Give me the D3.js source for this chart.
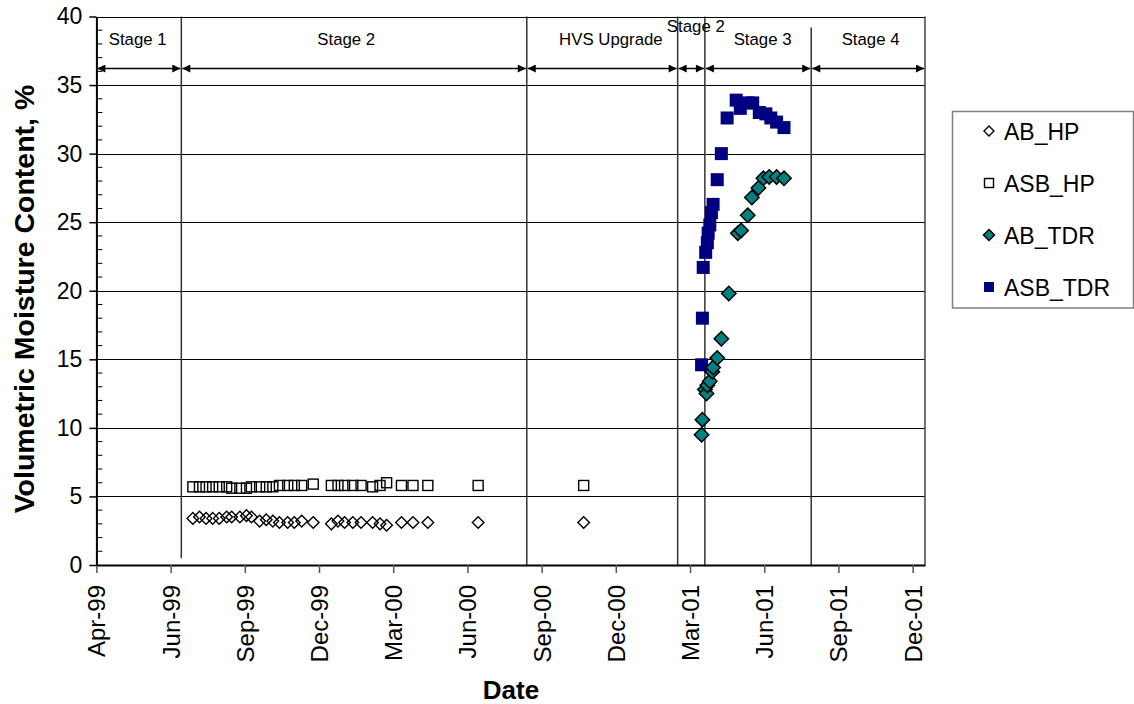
<!DOCTYPE html>
<html>
<head>
<meta charset="utf-8">
<script src="https://cdn.jsdelivr.net/npm/d3@7"></script>
<style>
  html, body { margin: 0; padding: 0; background: #fff; }
  svg { display: block; font-family: Arial, "Liberation Sans", sans-serif; }
</style>
</head>
<body>
<svg id="chart" width="1134" height="704"></svg>
<script>
// ---- data ----------------------------------------------------------------
// Heat-probe readings (same sampling dates for both layers)
const hpDates = [
  "1999-07-27","1999-08-04","1999-08-12","1999-08-20","1999-08-28","1999-09-06",
  "1999-09-12","1999-09-22","1999-09-30","1999-10-06","1999-10-16","1999-10-24",
  "1999-11-01","1999-11-09","1999-11-19","1999-11-27","1999-12-06","1999-12-20",
  "2000-01-11","2000-01-19","2000-01-27","2000-02-06","2000-02-16","2000-03-01",
  "2000-03-10","2000-03-18","2000-04-05","2000-04-19","2000-05-07","2000-07-07",
  "2000-11-12"
];
const abHP = [
  3.4, 3.5, 3.4, 3.4, 3.4, 3.5, 3.5, 3.5, 3.6, 3.5, 3.2, 3.3,
  3.2, 3.1, 3.1, 3.1, 3.2, 3.1, 3.0, 3.2, 3.1, 3.1, 3.1, 3.1,
  3.0, 2.9, 3.1, 3.1, 3.1, 3.1, 3.1
];
const asbHP = [
  5.7, 5.7, 5.7, 5.7, 5.7, 5.7, 5.6, 5.6, 5.6, 5.7, 5.7, 5.7,
  5.7, 5.8, 5.8, 5.8, 5.8, 5.9, 5.8, 5.8, 5.8, 5.8, 5.8, 5.7,
  5.8, 6.0, 5.8, 5.8, 5.8, 5.8, 5.8
];

// TDR readings
const abTDRDates = [
  "2001-04-04","2001-04-05","2001-04-08","2001-04-10","2001-04-11","2001-04-14",
  "2001-04-17","2001-04-18","2001-04-23","2001-04-28","2001-05-07","2001-05-18",
  "2001-05-22","2001-05-30","2001-06-04","2001-06-12","2001-06-18","2001-06-25",
  "2001-07-04","2001-07-13"
];
const abTDR = [
  9.5, 10.6, 12.8, 12.5, 13.1, 13.4, 14.1, 14.4, 15.1, 16.5, 19.8, 24.2,
  24.4, 25.5, 26.8, 27.5, 28.2, 28.3, 28.3, 28.2
];
const asbTDRDates = [
  "2001-04-04","2001-04-05","2001-04-06","2001-04-09","2001-04-11","2001-04-12",
  "2001-04-14","2001-04-16","2001-04-18","2001-04-23","2001-04-28","2001-05-05",
  "2001-05-16","2001-05-21","2001-05-30","2001-06-05","2001-06-13","2001-06-21",
  "2001-06-27","2001-07-04","2001-07-13"
];
const asbTDR = [
  14.6, 18.0, 21.7, 22.8, 23.5, 24.2, 24.8, 25.7, 26.3, 28.1, 30.0, 32.6,
  33.9, 33.3, 33.7, 33.7, 33.0, 32.9, 32.6, 32.3, 31.9
];

// Construction stages
const stageLabels = ["Stage 1", "Stage 2", "HVS Upgrade", "Stage 2", "Stage 3", "Stage 4"];
const stageStarts = ["1999-04-01","1999-07-13","2000-09-04","2001-03-06","2001-04-08","2001-08-15"];
const stageEnds   = ["1999-07-13","2000-09-04","2001-03-06","2001-04-08","2001-08-15","2001-12-31"];
const stageLabelDates = ["1999-05-21","2000-01-29","2000-12-15","2001-03-28","2001-06-17","2001-10-26"];

// Axes
const xTickDates = [
  "1999-04-01","1999-06-30","1999-09-28","1999-12-27","2000-03-26","2000-06-24",
  "2000-09-22","2000-12-21","2001-03-21","2001-06-19","2001-09-17","2001-12-16"
];
const xTickLabels = [
  "Apr-99","Jun-99","Sep-99","Dec-99","Mar-00","Jun-00",
  "Sep-00","Dec-00","Mar-01","Jun-01","Sep-01","Dec-01"
];
const yTicks = [0, 5, 10, 15, 20, 25, 30, 35, 40];
const seriesNames = ["AB_HP", "ASB_HP", "AB_TDR", "ASB_TDR"];

// ---- layout --------------------------------------------------------------
const parse = d3.utcParse("%Y-%m-%d");
const svg = d3.select("#chart");
const plot = { left: 96.4, right: 925, top: 16.5, bottom: 565 };

const x = d3.scaleUtc()
  .domain([parse("1999-04-01"), parse("2001-12-31")])
  .range([plot.left, plot.right]);
const y = d3.scaleLinear().domain([0, 40]).range([plot.bottom, plot.top]);

// horizontal gridlines
svg.append("g").selectAll("line")
  .data(yTicks.filter(v => v > 0))
  .join("line")
  .attr("x1", plot.left).attr("x2", plot.right)
  .attr("y1", d => Math.round(y(d)) + 0.5).attr("y2", d => Math.round(y(d)) + 0.5)
  .attr("stroke", "#000").attr("stroke-width", 1);

// right border of the plot area
svg.append("line")
  .attr("x1", plot.right).attr("x2", plot.right)
  .attr("y1", y(40)).attr("y2", y(0))
  .attr("stroke", "#444").attr("stroke-width", 1.5);

// stage divider lines
const dividerDates = stageStarts.slice(1);
const dividerTop = [40, 40, 40, 40, 39.2];
const dividerBottom = [0.5, -0.1, -0.1, -0.1, -0.1];
svg.append("g").selectAll("line")
  .data(dividerDates)
  .join("line")
  .attr("x1", d => x(parse(d))).attr("x2", d => x(parse(d)))
  .attr("y1", (d, i) => y(dividerTop[i])).attr("y2", (d, i) => y(dividerBottom[i]))
  .attr("stroke", "#333").attr("stroke-width", 1.5);

// arrowheads
const defs = svg.append("defs");
defs.append("marker")
  .attr("id", "arrowEnd").attr("viewBox", "0 0 10 10")
  .attr("refX", 10).attr("refY", 5)
  .attr("markerWidth", 9).attr("markerHeight", 8)
  .attr("markerUnits", "userSpaceOnUse")
  .attr("orient", "auto")
  .append("path").attr("d", "M0,0 L10,5 L0,10 Z").attr("fill", "#000");
defs.append("marker")
  .attr("id", "arrowStart").attr("viewBox", "0 0 10 10")
  .attr("refX", 0).attr("refY", 5)
  .attr("markerWidth", 9).attr("markerHeight", 8)
  .attr("markerUnits", "userSpaceOnUse")
  .attr("orient", "auto")
  .append("path").attr("d", "M10,0 L0,5 L10,10 Z").attr("fill", "#000");

const arrowY = Math.round(y(36.25)) + 0.5;
svg.append("g").selectAll("line")
  .data(stageLabels.map((s, i) => ({ a: parse(stageStarts[i]), b: parse(stageEnds[i]) })))
  .join("line")
  .attr("x1", d => x(d.a) + 1).attr("x2", d => x(d.b) - 1)
  .attr("y1", arrowY).attr("y2", arrowY)
  .attr("stroke", "#000").attr("stroke-width", 1.5)
  .attr("marker-start", "url(#arrowStart)")
  .attr("marker-end", "url(#arrowEnd)");

// stage labels
svg.append("g").selectAll("text")
  .data(stageLabels)
  .join("text")
  .attr("x", (d, i) => x(parse(stageLabelDates[i])))
  .attr("y", (d, i) => i === 3 ? 32 : 45)
  .attr("text-anchor", "middle")
  .attr("font-size", 16.8)
  .attr("fill", "#000")
  .text(d => d);

// ---- axes ----------------------------------------------------------------
const xAxis = d3.axisBottom(x)
  .tickValues(xTickDates.map(parse))
  .tickFormat((d, i) => xTickLabels[i])
  .tickSize(8).tickSizeOuter(0);
const gx = svg.append("g")
  .attr("transform", `translate(0,${plot.bottom})`)
  .call(xAxis);
gx.select(".domain").attr("stroke", "#000").attr("stroke-width", 2);
gx.selectAll(".tick line").attr("stroke", "#555").attr("stroke-width", 1.5);
gx.selectAll(".tick text")
  .attr("font-size", 24)
  .attr("font-family", "Arial, 'Liberation Sans', sans-serif")
  .attr("fill", "#000")
  .attr("text-anchor", "end")
  .attr("transform", "rotate(-90)")
  .attr("x", -20).attr("y", 0).attr("dy", "0.35em");

// minor y ticks (inside)
svg.append("g").selectAll("line")
  .data(d3.range(1, 40).filter(v => v % 5 !== 0))
  .join("line")
  .attr("x1", plot.left).attr("x2", plot.left + 6)
  .attr("y1", d => y(d)).attr("y2", d => y(d))
  .attr("stroke", "#000").attr("stroke-width", 1);

const yAxis = d3.axisLeft(y).tickValues(yTicks).tickSize(7).tickSizeOuter(0);
const gy = svg.append("g")
  .attr("transform", `translate(${plot.left},0)`)
  .call(yAxis);
gy.select(".domain").attr("stroke", "#000").attr("stroke-width", 2);
gy.selectAll(".tick line").attr("stroke", "#000").attr("stroke-width", 1.5);
gy.selectAll(".tick text")
  .attr("font-size", 23)
  .attr("font-family", "Arial, 'Liberation Sans', sans-serif")
  .attr("fill", "#000")
  .attr("x", -14);

// axis titles
svg.append("text")
  .attr("transform", "translate(34,299) rotate(-90)")
  .attr("text-anchor", "middle")
  .attr("font-size", 28.5).attr("font-weight", "bold")
  .text("Volumetric Moisture Content, %");
svg.append("text")
  .attr("x", 511).attr("y", 699)
  .attr("text-anchor", "middle")
  .attr("font-size", 26).attr("font-weight", "bold")
  .text("Date");

// ---- markers ---------------------------------------------------------------
const diamond = r => `M0,${-r} L${r},0 L0,${r} L${-r},0 Z`;

const g = svg.append("g");
// AB_HP hollow diamonds
g.append("g").selectAll("path")
  .data(hpDates.map((d, i) => ({ d: parse(d), v: abHP[i] })))
  .join("path")
  .attr("d", diamond(5.8))
  .attr("transform", p => `translate(${x(p.d)},${y(p.v)})`)
  .attr("fill", "none").attr("stroke", "#000").attr("stroke-width", 1.4);
// ASB_HP hollow squares
g.append("g").selectAll("rect")
  .data(hpDates.map((d, i) => ({ d: parse(d), v: asbHP[i] })))
  .join("rect")
  .attr("x", p => x(p.d) - 5).attr("y", p => y(p.v) - 5)
  .attr("width", 10).attr("height", 10)
  .attr("fill", "none").attr("stroke", "#000").attr("stroke-width", 1.4);
// ASB_TDR navy squares
g.append("g").selectAll("rect")
  .data(asbTDRDates.map((d, i) => ({ d: parse(d), v: asbTDR[i] })))
  .join("rect")
  .attr("x", p => x(p.d) - 6.5).attr("y", p => y(p.v) - 6.5)
  .attr("width", 13).attr("height", 13)
  .attr("fill", "#000080");
// AB_TDR teal diamonds
g.append("g").selectAll("path")
  .data(abTDRDates.map((d, i) => ({ d: parse(d), v: abTDR[i] })))
  .join("path")
  .attr("d", diamond(7.2))
  .attr("transform", p => `translate(${x(p.d)},${y(p.v)})`)
  .attr("fill", "#008080").attr("stroke", "#000").attr("stroke-width", 1.5);

// ---- legend ----------------------------------------------------------------
const legend = svg.append("g");
legend.append("rect")
  .attr("x", 952.5).attr("y", 111.5).attr("width", 181).attr("height", 196.5)
  .attr("fill", "#fff").attr("stroke", "#808080").attr("stroke-width", 1.5);
const legendY = [131, 183, 235, 287];
seriesNames.forEach((name, i) => {
  const cy = legendY[i], cx = 989;
  const item = legend.append("g");
  if (i === 0) {
    item.append("path").attr("d", diamond(5)).attr("transform", `translate(${cx},${cy})`)
      .attr("fill", "none").attr("stroke", "#000").attr("stroke-width", 1.4);
  } else if (i === 1) {
    item.append("rect").attr("x", cx - 4.5).attr("y", cy - 4.5).attr("width", 9).attr("height", 9)
      .attr("fill", "none").attr("stroke", "#000").attr("stroke-width", 1.4);
  } else if (i === 2) {
    item.append("path").attr("d", diamond(5.5)).attr("transform", `translate(${cx},${cy})`)
      .attr("fill", "#008080").attr("stroke", "#000").attr("stroke-width", 1.5);
  } else {
    item.append("rect").attr("x", cx - 5).attr("y", cy - 5).attr("width", 10).attr("height", 10)
      .attr("fill", "#000080");
  }
  item.append("text")
    .attr("x", cx + 15).attr("y", cy + 8.5)
    .attr("font-size", 23)
    .text(name);
});
</script>
</body>
</html>
